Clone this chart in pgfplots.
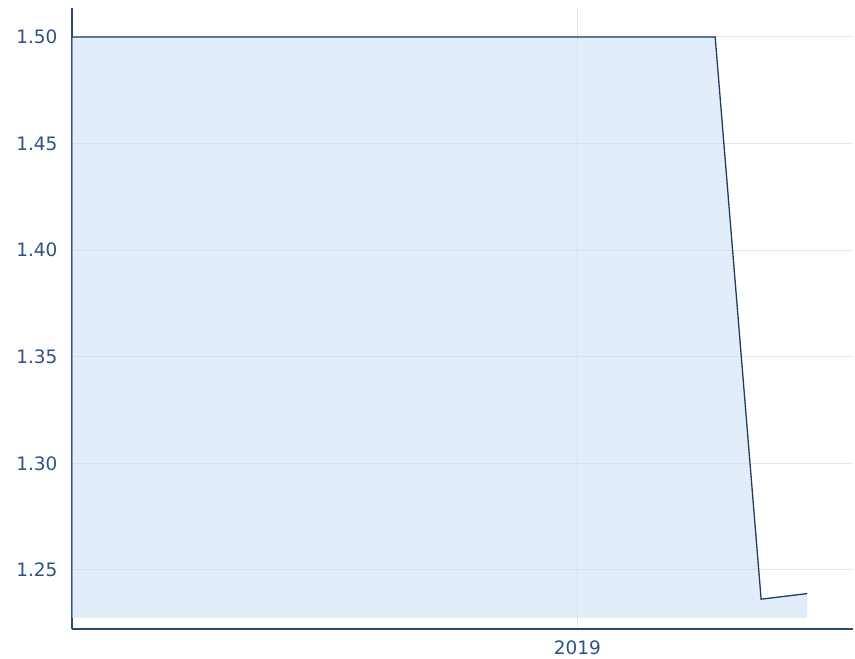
\documentclass[border=0pt]{standalone}
\usepackage{pgfplots}
\pgfplotsset{compat=1.18}
\usepackage{fontspec}
\setmainfont{DejaVu Sans}
\definecolor{axisblue}{HTML}{2B4A73}
\definecolor{lineblue}{HTML}{1F3C63}
\definecolor{fillblue}{RGB}{200,224,245}
\definecolor{labelblue}{HTML}{2E5283}
\definecolor{gridgrey}{HTML}{E6E6E6}
\begin{document}
\begin{tikzpicture}
\begin{axis}[
  scale only axis,
  width=781pt, height=621pt,
  xmin=2016.25, xmax=2020.5,
  ymin=1.2223, ymax=1.5136,
  axis x line=bottom, axis y line=left,
  axis line style={axisblue, line width=1.7pt, -},
  xtick={2019}, xticklabels={2019},
  ytick={1.25,1.30,1.35,1.40,1.45,1.50},
  yticklabel style={/pgf/number format/fixed, /pgf/number format/fixed zerofill, /pgf/number format/precision=2},
  /pgf/number format/assume math mode=true,
  tick label style={font=\fontsize{18.5}{20}\selectfont, text=labelblue},
  major tick length=0pt,
  grid=major,
  major grid style={gridgrey, line width=1pt},
  xticklabel style={yshift=-8pt},
  yticklabel style={xshift=-11pt},
  clip=false,
]
\addplot[fill=fillblue, fill opacity=0.55, draw=none] coordinates {
  (2016.25,1.2275) (2016.25,1.50) (2019.75,1.50) (2020.0,1.2363) (2020.25,1.2389) (2020.25,1.2275)
} -- cycle;
\addplot[lineblue, line width=1.3pt] coordinates {
  (2016.25,1.50) (2019.75,1.50) (2020.0,1.2363) (2020.25,1.2389)
};
\coordinate (sw) at (rel axis cs:0,0);
\coordinate (ne) at (rel axis cs:1,1);
\end{axis}
\path (sw) ++(-72pt,-30pt) coordinate (a) (ne) ++(2pt,8pt) coordinate (b);
\useasboundingbox (a) rectangle (b);
\end{tikzpicture}
\end{document}
